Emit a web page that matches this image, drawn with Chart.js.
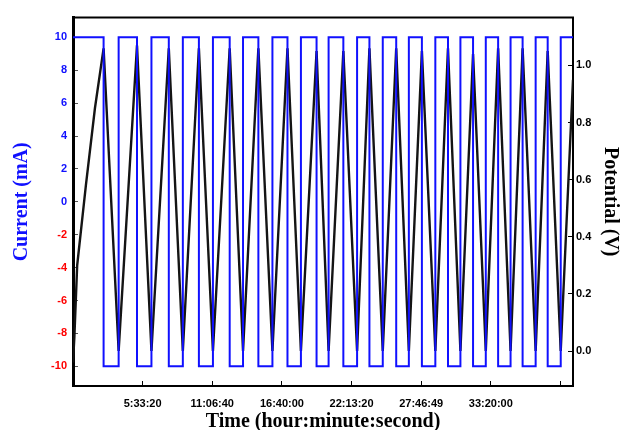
<!DOCTYPE html>
<html>
<head>
<meta charset="utf-8">
<script src="https://cdn.jsdelivr.net/npm/chart.js@4/dist/chart.umd.min.js"></script>
<style>
  html, body { margin: 0; padding: 0; background: #ffffff; }
  #c { display: block; }
</style>
</head>
<body>
<canvas id="c" width="622" height="430"></canvas>
<script>
// ---- data (time in seconds) ----
const chargeEndTimes = [8787, 18381, 27514, 36157, 45001, 53241, 61596, 69951, 77643, 85134, 92827, 100202, 107693, 114894, 122098, 129126, 136329];
const dischargeEndTimes = [13109, 22529, 31547, 40190, 48833, 57274, 65457, 73408, 81590, 88965, 96456, 104062, 111265, 118553, 125669, 132873, 140074];
const peakPotentials = [1.06, 1.07, 1.06, 1.06, 1.06, 1.06, 1.06, 1.05, 1.05, 1.06, 1.06, 1.05, 1.06, 1.04, 1.06, 1.06, 1.05];
const troughPotentials = [0.00, 0.00, 0.00, 0.00, 0.00, 0.00, 0.00, 0.00, 0.00, 0.00, 0.00, 0.00, 0.00, 0.00, 0.00, 0.00, 0.00];
const firstChargeTimes = [0, 400, 1200, 3700, 6300];
const firstChargePotentials = [-0.04, 0.05, 0.30, 0.58, 0.85];
const endTime = 143600;
const endPotential = 0.95;
const chargeCurrent = 10;
const dischargeCurrent = -10;
const currentTicks = [-10, -8, -6, -4, -2, 0, 2, 4, 6, 8, 10];
const potentialTicks = [0.0, 0.2, 0.4, 0.6, 0.8, 1.0];
const timeTickValues = [20000, 40000, 60000, 80000, 100000, 120000, 140000];
const timeTickLabels = ['5:33:20', '11:06:40', '16:40:00', '22:13:20', '27:46:49', '33:20:00', ''];

// ---- build series ----
const currentData = [{x: 0, y: chargeCurrent}];
chargeEndTimes.forEach((t, i) => {
  currentData.push({x: t, y: dischargeCurrent});
  currentData.push({x: dischargeEndTimes[i], y: chargeCurrent});
});
currentData.push({x: endTime, y: chargeCurrent});

const potentialData = firstChargeTimes.map((t, i) => ({x: t, y: firstChargePotentials[i]}));
chargeEndTimes.forEach((t, i) => {
  potentialData.push({x: t, y: peakPotentials[i]});
  potentialData.push({x: dischargeEndTimes[i], y: troughPotentials[i]});
});
potentialData.push({x: endTime, y: endPotential});

const BLUE = '#1010ff';
const RED = '#ff0000';
const tickFont = {family: 'Liberation Sans', size: 11, weight: 'bold'};
const titleFont = {family: 'Liberation Serif', size: 20, weight: 'bold'};

const topBorder = {
  id: 'topBorder',
  afterDraw(chart) {
    const {ctx, chartArea} = chart;
    ctx.save();
    ctx.strokeStyle = '#000';
    ctx.lineWidth = 2;
    ctx.beginPath();
    ctx.moveTo(chartArea.left - 1, chartArea.top);
    ctx.lineTo(chartArea.right + 1, chartArea.top);
    ctx.stroke();
    ctx.restore();
  }
};

new Chart(document.getElementById('c'), {
  type: 'line',
  data: {
    datasets: [
      {
        label: 'Current',
        data: currentData,
        yAxisID: 'y',
        borderColor: BLUE,
        borderWidth: 2,
        stepped: 'before',
        pointRadius: 0,
        fill: false,
        borderJoinStyle: 'miter'
      },
      {
        label: 'Potential',
        data: potentialData,
        yAxisID: 'y2',
        borderColor: '#141414',
        borderWidth: 2.4,
        pointRadius: 0,
        tension: 0,
        fill: false
      }
    ]
  },
  options: {
    responsive: false,
    animation: false,
    devicePixelRatio: 1,
    layout: {padding: {top: 14, left: 0, right: 0, bottom: 0}},
    plugins: {legend: {display: false}, tooltip: {enabled: false}},
    scales: {
      x: {
        type: 'linear',
        min: 0,
        max: endTime,
        afterFit: s => { s.height = 44; },
        afterBuildTicks: s => { s.ticks = timeTickValues.map(v => ({value: v})); },
        ticks: {
          font: tickFont,
          color: '#000',
          padding: 16,
          maxRotation: 0,
          autoSkip: false,
          callback: (v) => { const i = timeTickValues.indexOf(v); return i >= 0 ? timeTickLabels[i] : ''; }
        },
        grid: {drawOnChartArea: false, drawTicks: true, tickLength: -5, color: '#000', lineWidth: 1},
        border: {display: true, color: '#000', width: 2},
        title: {display: true, text: 'Time (hour:minute:second)', color: '#000', font: titleFont, padding: {top: 0, bottom: -4}}
      },
      y: {
        position: 'left',
        min: -11.2,
        max: 11.2,
        afterFit: s => { s.width = 73; },
        afterBuildTicks: s => { s.ticks = currentTicks.map(v => ({value: v})); },
        ticks: {
          font: tickFont,
          padding: 11,
          color: (ctx) => (ctx.tick && ctx.tick.value < 0 ? RED : BLUE),
          callback: (v) => String(v)
        },
        grid: {drawOnChartArea: false, drawTicks: true, tickLength: -5, color: '#555', lineWidth: 1},
        border: {display: true, color: '#000', width: 3},
        title: {display: true, text: 'Current (mA)', color: BLUE, font: titleFont, padding: {top: 10, bottom: 0}}
      },
      y2: {
        position: 'right',
        min: -0.1224,
        max: 1.1675,
        afterFit: s => { s.width = 49; },
        afterBuildTicks: s => { s.ticks = potentialTicks.map(v => ({value: v})); },
        ticks: {
          font: tickFont,
          padding: 8,
          color: '#000',
          callback: (v) => Number(v).toFixed(1)
        },
        grid: {drawOnChartArea: false, drawTicks: true, tickLength: -5, color: '#000', lineWidth: 1},
        border: {display: true, color: '#000', width: 2},
        title: {display: true, text: 'Potential (V)', color: '#000', font: titleFont, padding: {top: 0, bottom: 0}}
      }
    }
  },
  plugins: [topBorder]
});
</script>
</body>
</html>
